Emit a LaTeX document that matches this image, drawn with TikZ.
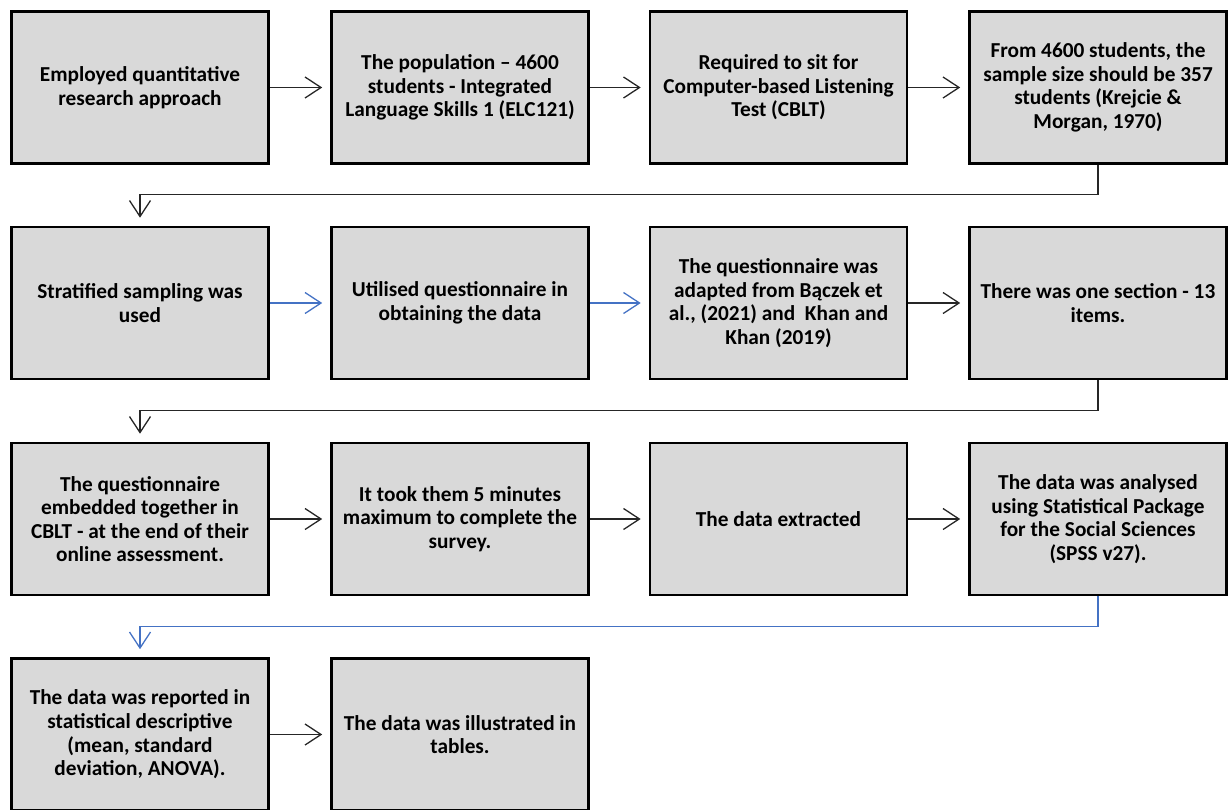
\documentclass[tikz,border=0pt]{standalone}
\usepackage{fontspec}
\setmainfont{Carlito}
\usetikzlibrary{arrows.meta}
\definecolor{boxfill}{HTML}{D9D9D9}
\definecolor{officeblue}{HTML}{4472C4}
\tikzset{
  stepbox/.style={draw=black, fill=boxfill, line width=2.6pt, minimum width=257pt, minimum height=152pt,
    inner sep=0pt, align=center, font=\fontsize{21.3}{23.6}\selectfont\bfseries},
  conn/.style={line width=1.3pt, draw=black!85, -{Straight Barb[length=16pt,width=21pt,line width=1.3pt]}, shorten >=8pt},
  bconn/.style={conn, draw=officeblue}
}
\begin{document}
\begin{tikzpicture}[x=1pt,y=-1pt]
\useasboundingbox (0,0) rectangle (1228,809);
% row 1
\node[stepbox] (n1) at (140,87.5) {Employed quantitative\\research approach};
\node[stepbox] (n2) at (460,87.5) {The population – 4600\\students - Integrated\\Language Skills 1 (ELC121)};
\node[stepbox] (n3) at (778.5,87.5) {Required to sit for\\Computer-based Listening\\Test (CBLT)};
\node[stepbox] (n4) at (1098,87.5) {From 4600 students, the\\sample size should be 357\\students (Krejcie \&\\Morgan, 1970)};
% row 2
\node[stepbox] (n5) at (140,303) {Stratified sampling was\\used};
\node[stepbox] (n6) at (460,303) {Utilised questionnaire in\\obtaining the data};
\node[stepbox] (n7) at (778.5,303) {The questionnaire was\\adapted from Bączek et\\al., (2021) and~ Khan and\\Khan (2019)};
\node[stepbox] (n8) at (1098,303) {There was one section - 13\\items.};
% row 3
\node[stepbox] (n9) at (140,519) {The questionnaire\\embedded together in\\CBLT - at the end of their\\online assessment.};
\node[stepbox] (n10) at (460,519) {It took them 5 minutes\\maximum to complete the\\survey.};
\node[stepbox] (n11) at (778.5,519) {The data extracted};
\node[stepbox] (n12) at (1098,519) {The data was analysed\\using Statistical Package\\for the Social Sciences\\(SPSS v27).};
% row 4
\node[stepbox] (n13) at (140,734.5) {The data was reported in\\statistical descriptive\\(mean, standard\\deviation, ANOVA).};
\node[stepbox] (n14) at (460,734.5) {The data was illustrated in\\tables.};
% connectors
\draw[conn] (n1) -- (n2);
\draw[conn] (n2) -- (n3);
\draw[conn] (n3) -- (n4);
\draw[conn] (n4.south) -- ++(0,30) coordinate (c1) -| (n5.north);
\draw[bconn] (n5) -- (n6);
\draw[bconn] (n6) -- (n7);
\draw[conn] (n7) -- (n8);
\draw[conn] (n8.south) -- ++(0,30) coordinate (c2) -| (n9.north);
\draw[conn] (n9) -- (n10);
\draw[conn] (n10) -- (n11);
\draw[conn] (n11) -- (n12);
\draw[bconn] (n12.south) -- ++(0,30) coordinate (c3) -| (n13.north);
\draw[conn] (n13) -- (n14);
\end{tikzpicture}
\end{document}
